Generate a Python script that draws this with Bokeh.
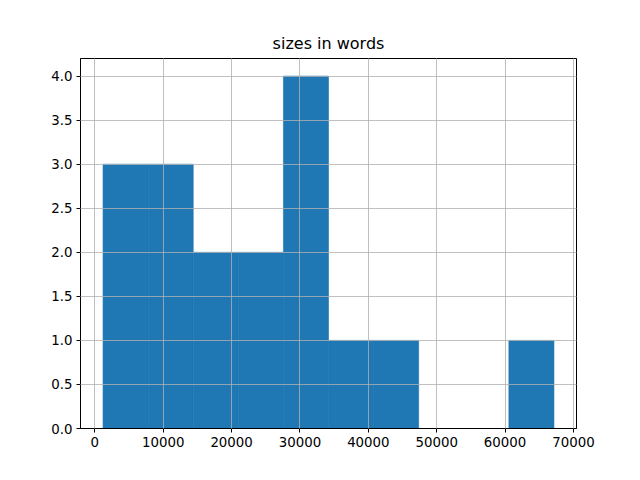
from bokeh.plotting import figure
from bokeh.models import Range1d, FixedTicker, CustomJSTickFormatter
from bokeh.embed import file_html
from bokeh.resources import INLINE

# histogram data (10 bins)
bin_edges = [1200, 7795, 14390, 20985, 27580, 34175, 40770, 47365, 53960, 60555, 67150]
counts = [3, 3, 2, 2, 4, 1, 1, 0, 0, 1]
x_ticks = [0, 10000, 20000, 30000, 40000, 50000, 60000, 70000]
y_ticks = [0.0, 0.5, 1.0, 1.5, 2.0, 2.5, 3.0, 3.5, 4.0]
title_text = "sizes in words"

p = figure(width=640, height=480, output_backend="svg", toolbar_location=None,
           x_range=Range1d(-2097.5, 70447.5), y_range=Range1d(0, 4.2),
           min_border_left=80, min_border_right=64, min_border_top=58, min_border_bottom=52,
           title=title_text)

p.quad(left=bin_edges[:-1], right=bin_edges[1:], top=counts, bottom=0,
       fill_color="#1f77b4", line_color="#1f77b4", line_width=0.6)

p.title.align = "center"
p.title.text_font = "DejaVu Sans"
p.title.text_font_size = "16px"
p.title.text_font_style = "normal"
p.title.text_color = "black"
p.title.offset = 0
p.title.standoff = 12

p.outline_line_color = "black"
p.outline_line_width = 1
p.outline_line_alpha = 1
p.background_fill_color = "white"
p.border_fill_color = "white"

for ax in (p.xaxis[0], p.yaxis[0]):
    ax.major_label_text_font = "DejaVu Sans"
    ax.major_label_text_font_size = "13.33px"
    ax.major_label_text_color = "black"
    ax.major_tick_out = 4
    ax.major_tick_in = 0
    ax.minor_tick_out = 0
    ax.minor_tick_in = 0
    ax.axis_line_color = "black"
    ax.major_tick_line_color = "black"
    ax.major_tick_line_width = 1
    ax.major_label_standoff = 4

p.xaxis.ticker = FixedTicker(ticks=x_ticks)
p.yaxis.ticker = FixedTicker(ticks=y_ticks)
p.yaxis.formatter = CustomJSTickFormatter(code="return tick.toFixed(1);")
p.xaxis.formatter = CustomJSTickFormatter(code="return tick.toFixed(0);")

p.grid.grid_line_color = "#b0b0b0"
p.grid.grid_line_width = 0.8
p.xgrid.level = "guide"
p.ygrid.level = "guide"

open("out.html", "w").write(file_html(p, INLINE))
